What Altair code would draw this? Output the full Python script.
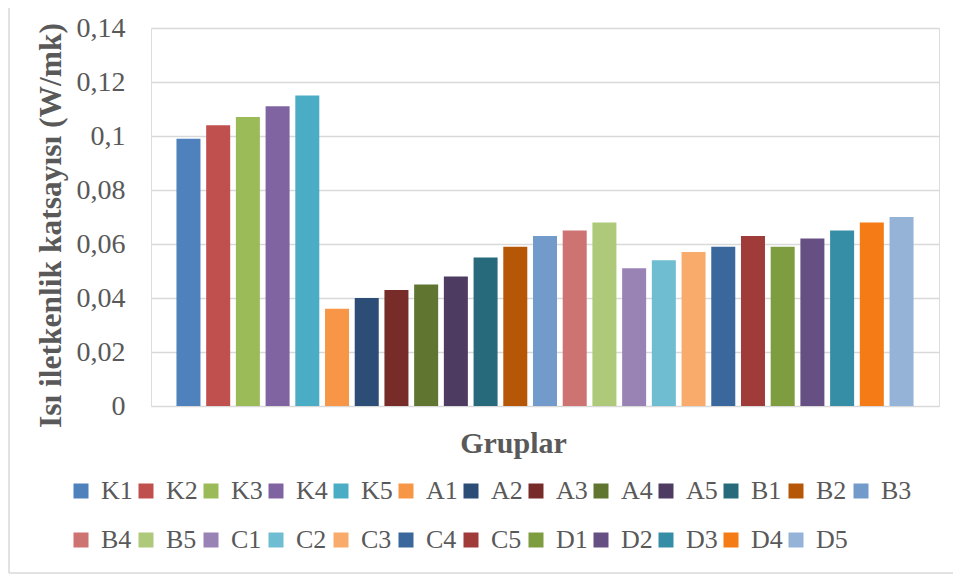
import altair as alt
import pandas as pd

names = ["K1", "K2", "K3", "K4", "K5",
         "A1", "A2", "A3", "A4", "A5",
         "B1", "B2", "B3", "B4", "B5",
         "C1", "C2", "C3", "C4", "C5",
         "D1", "D2", "D3", "D4", "D5"]
values = [0.099, 0.104, 0.107, 0.111, 0.115,
          0.036, 0.040, 0.043, 0.045, 0.048,
          0.055, 0.059, 0.063, 0.065, 0.068,
          0.051, 0.054, 0.057, 0.059, 0.063,
          0.059, 0.062, 0.065, 0.068, 0.070]
colors = ["#4F81BD", "#C0504D", "#9BBB59", "#8064A2", "#4BACC6",
          "#F79646", "#2C4D75", "#772C2A", "#5F7530", "#4D3B62",
          "#276A7C", "#B65708", "#729ACA", "#CD7371", "#AFC97A",
          "#9983B5", "#6FBDD1", "#F9AB6B", "#3A679C", "#9F3B38",
          "#7E9C40", "#664F82", "#358EA6", "#F47B15", "#95B3D7"]
y_ticks = [0, 0.02, 0.04, 0.06, 0.08, 0.10, 0.12, 0.14]

df = pd.DataFrame({"grup": names, "deger": values})

FONT = "Liberation Serif"
GREY = "#595959"

bars = alt.Chart(df).mark_bar().encode(
    x=alt.X("grup:N", sort=names,
            scale=alt.Scale(paddingInner=0.192, paddingOuter=0.857),
            axis=alt.Axis(labels=False, ticks=False, domain=False, grid=False,
                          title="Gruplar", titleFont=FONT, titleFontSize=30,
                          titleFontWeight="bold", titleColor=GREY,
                          titleX=362, titleY=37, titleBaseline="middle",
                          titleAlign="center")),
    y=alt.Y("deger:Q",
            scale=alt.Scale(domain=[0, 0.14], nice=False, zero=True),
            axis=alt.Axis(values=y_ticks, domain=False, ticks=False,
                          labelExpr="replace(format(datum.value, '.2~f'), '.', ',')",
                          labelFont=FONT, labelFontSize=28, labelColor=GREY,
                          labelPadding=26,
                          gridColor="#d9d9d9", gridWidth=1.5,
                          title="Isı iletkenlik katsayısı (W/mk)",
                          titleFont=FONT, titleFontSize=31.5, titleFontWeight="bold",
                          titleColor=GREY, titleAngle=270,
                          titleX=-100, titleY=197, titleBaseline="middle",
                          titleAlign="center")),
    color=alt.Color("grup:N",
                    scale=alt.Scale(domain=names, range=colors),
                    legend=alt.Legend(title=None, orient="none",
                                      legendX=-83, legendY=450,
                                      direction="horizontal", columns=13,
                                      gridAlign="all", columnPadding=-3,
                                      rowPadding=23,
                                      symbolType="square", symbolSize=225,
                                      symbolStrokeWidth=0, symbolOpacity=1,
                                      labelFont=FONT, labelFontSize=26,
                                      labelColor=GREY, labelOffset=7,
                                      labelLimit=200)),
)

frame_data = alt.Data(values=[{"k": 1}])
left_border = alt.Chart(frame_data).mark_rule(color="#d9d9d9", strokeWidth=1.5).encode(
    x=alt.value(-142), y=alt.value(-20), y2=alt.value(545))
bottom_border = alt.Chart(frame_data).mark_rule(color="#d9d9d9", strokeWidth=1.5).encode(
    x=alt.value(-142), x2=alt.value(810), y=alt.value(545))

chart = alt.layer(left_border, bottom_border, bars).properties(
    width=788, height=378,
    autosize=alt.AutoSizeParams(type="none"),
    padding={"left": 143, "top": 20, "right": 14, "bottom": 170},
).configure_view(stroke=None).configure(background="white")

chart.save("out.html", embed_options={"renderer": "svg", "actions": False})
